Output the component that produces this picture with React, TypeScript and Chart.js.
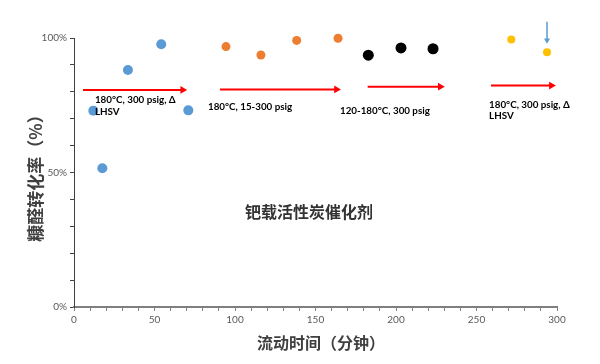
import React, { useEffect, useRef } from 'react';
import { Chart, registerables } from 'chart.js';

Chart.register(...registerables);

// Series: flow time (min) vs furfural conversion (%)
const blueX = [12, 17.6, 33.5, 54.2, 71];
const blueY = [73, 51.6, 88.1, 97.7, 73.1];
const orangeX = [94.4, 116.1, 138.3, 164];
const orangeY = [96.8, 93.7, 99.1, 99.9];
const blackX = [182.8, 203.1, 223];
const blackY = [93.6, 96.3, 96];
const yellowX = [271.6, 293.8];
const yellowY = [99.4, 94.7];

// Red condition arrows (x start, x end, y level)
const arrowStartX = [5.6, 90.7, 182.4, 259];
const arrowEndX = [67.5, 163, 227.5, 296.5];
const arrowY = [80.7, 80.9, 81.9, 82.3];

// Blue marker arrow (points at last yellow point)
const markerX = [293.8, 293.8];
const markerY = [106, 99.2];

// Condition labels
const labelLines = [
  ['180°C, 300 psig, Δ', 'LHSV'],
  ['180°C, 15-300 psig'],
  ['120-180°C, 300 psig'],
  ['180°C, 300 psig, Δ', 'LHSV'],
];
const labelX = [13, 83.2, 165.2, 257.8];
const labelY = [77.0, 74.3, 72.9, 75.3];

const catalystLabel = '钯载活性炭催化剂';
const xTitle = '流动时间（分钟）';
const yTitle = '糠醛转化率（%）';

const xTicksMax = 300;
const yTicksMax = 100;

const pts = (xs: number[], ys: number[]) => xs.map((x, i) => ({ x, y: ys[i] }));

const annotPlugin = {
  id: 'annot',
  afterDatasetsDraw(chart: any) {
    const { ctx, scales } = chart;
    const xs = scales.x;
    const ys = scales.y;
    ctx.save();
    ctx.fillStyle = '#000000';
    ctx.font = 'bold 9.8px Lato, "Liberation Sans", sans-serif';
    ctx.textBaseline = 'middle';
    ctx.textAlign = 'left';
    labelLines.forEach((lines, i) => {
      const px = xs.getPixelForValue(labelX[i]);
      const py = ys.getPixelForValue(labelY[i]);
      lines.forEach((t, j) => ctx.fillText(t, px, py + j * 11.5));
    });
    ctx.fillStyle = '#333333';
    ctx.font = 'bold 16px "Noto Sans CJK SC", sans-serif';
    ctx.textAlign = 'center';
    ctx.fillText(catalystLabel, 309, 212);
    // axis titles
    ctx.fillStyle = '#404040';
    ctx.font = 'bold 16px "Noto Sans CJK SC", sans-serif';
    ctx.fillText(xTitle, 321, 343);
    ctx.translate(36, 174);
    ctx.rotate(-Math.PI / 2);
    ctx.font = 'bold 17px "Noto Sans CJK SC", sans-serif';
    ctx.fillText(yTitle, 0, 0);
    ctx.restore();
  },
};

export default function App() {
  const ref = useRef<HTMLCanvasElement>(null);
  useEffect(() => {
    if (!ref.current) return;
    const red = '#FF0000';
    const arrowSets = arrowStartX.map((sx, i) => ({
      type: 'scatter' as const,
      data: [
        { x: sx, y: arrowY[i] },
        { x: arrowEndX[i], y: arrowY[i] },
      ],
      showLine: true,
      borderColor: red,
      borderWidth: 2,
      pointStyle: 'triangle',
      pointRadius: [0, 4.5],
      pointRotation: [0, 90],
      pointBackgroundColor: red,
      pointBorderColor: red,
      pointBorderWidth: 0,
      clip: false,
    }));
    const chart = new Chart(ref.current, {
      type: 'scatter',
      data: {
        datasets: [
          {
            data: pts(blueX, blueY),
            backgroundColor: '#5B9BD5',
            borderColor: '#5B9BD5',
            pointRadius: 5,
            borderWidth: 0,
            clip: false,
          },
          {
            data: pts(orangeX, orangeY),
            backgroundColor: '#ED7D31',
            borderColor: '#ED7D31',
            pointRadius: 4.5,
            borderWidth: 0,
            clip: false,
          },
          {
            data: pts(blackX, blackY),
            backgroundColor: '#000000',
            borderColor: '#000000',
            pointRadius: 5.5,
            borderWidth: 0,
            clip: false,
          },
          {
            data: pts(yellowX, yellowY),
            backgroundColor: '#FFC000',
            borderColor: '#FFC000',
            pointRadius: 4,
            borderWidth: 0,
            clip: false,
          },
          ...arrowSets,
          {
            data: pts(markerX, markerY),
            showLine: true,
            borderColor: '#5B9BD5',
            borderWidth: 1.5,
            pointStyle: 'triangle',
            pointRadius: [0, 3.5],
            pointRotation: [0, 180],
            pointBackgroundColor: '#5B9BD5',
            pointBorderColor: '#5B9BD5',
            pointBorderWidth: 0,
            clip: false,
          } as any,
        ] as any,
      },
      options: {
        responsive: false,
        animation: false,
        layout: { padding: { top: 38, right: 43, left: 0, bottom: 0 } },
        plugins: {
          legend: { display: false },
          tooltip: { enabled: false },
        },
        scales: {
          x: {
            type: 'linear',
            min: 0,
            max: xTicksMax,
            afterFit: (s: any) => {
              s.height = 57;
            },
            ticks: {
              stepSize: 10,
              autoSkip: false,
              maxRotation: 0,
              padding: 3,
              color: '#595959',
              font: { family: 'Lato, "Liberation Sans", sans-serif', size: 10 },
              callback: (v: any) => (Number(v) % 50 === 0 ? String(v) : ''),
            },
            grid: {
              display: true,
              drawOnChartArea: false,
              drawTicks: true,
              tickLength: 4,
              color: '#808080',
            },
            border: { display: true, color: '#808080', width: 2 },
          },
          y: {
            type: 'linear',
            min: 0,
            max: yTicksMax,
            afterFit: (s: any) => {
              s.width = 74;
            },
            ticks: {
              stepSize: 10,
              autoSkip: false,
              padding: 3,
              color: '#595959',
              font: { family: 'Lato, "Liberation Sans", sans-serif', size: 10 },
              callback: (v: any) => (Number(v) % 50 === 0 ? v + '%' : ''),
            },
            grid: {
              display: true,
              drawOnChartArea: false,
              drawTicks: true,
              tickLength: 4,
              color: '#404040',
            },
            border: { display: true, color: '#404040', width: 1 },
          },
        },
      } as any,
      plugins: [annotPlugin],
    });
    return () => chart.destroy();
  }, []);
  return (
    <div style={{ position: 'fixed', left: 0, top: 0, width: 600, height: 364, background: '#fff' }}>
      <canvas ref={ref} width={600} height={364} style={{ display: 'block' }} />
    </div>
  );
}
